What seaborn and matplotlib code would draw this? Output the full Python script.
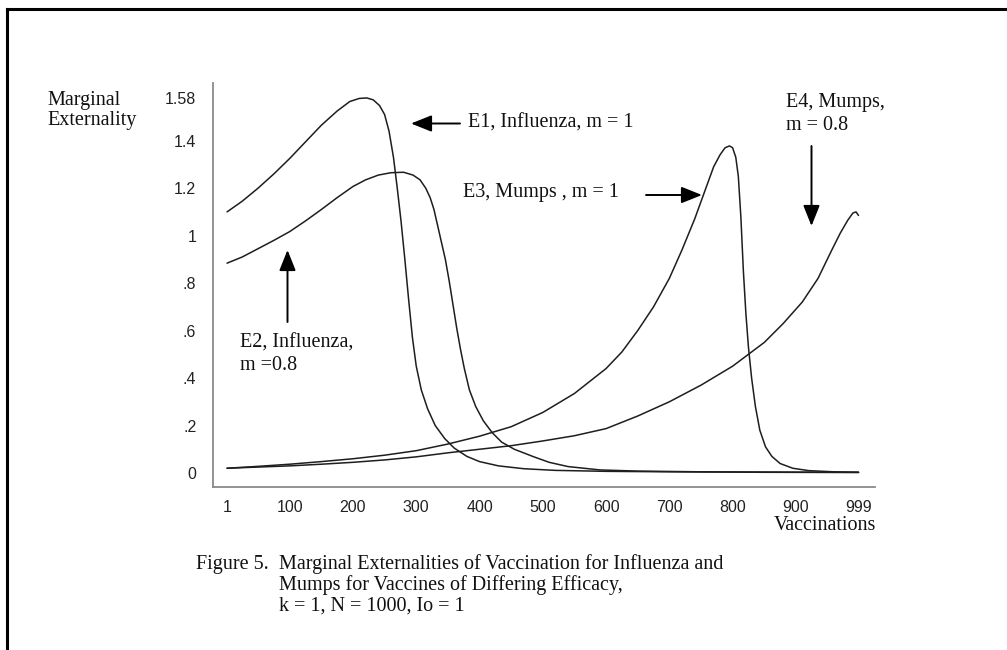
import matplotlib
matplotlib.use("Agg")
import matplotlib.pyplot as plt
import seaborn as sns
from matplotlib.lines import Line2D

# ---- data ----
e1_x = [1, 25, 50, 75, 100, 125, 150, 175, 195, 210, 222, 232, 242, 250, 257, 264, 270, 276, 282,
        288, 294, 300, 308, 318, 330, 345, 360, 380, 400, 430, 470, 520, 600, 700, 850, 999]
e1_y = [1.10, 1.145, 1.20, 1.26, 1.325, 1.395, 1.465, 1.525, 1.565, 1.578, 1.58, 1.572, 1.548, 1.51,
        1.44, 1.33, 1.20, 1.06, 0.90, 0.73, 0.57, 0.45, 0.35, 0.27, 0.20, 0.145, 0.105, 0.07, 0.048,
        0.03, 0.018, 0.011, 0.007, 0.005, 0.003, 0.002]

e2_x = [1, 25, 50, 75, 100, 125, 150, 175, 200, 220, 240, 260, 280, 295, 306, 315, 322, 328, 334, 340,
        346, 352, 358, 364, 370, 376, 384, 394, 406, 420, 435, 455, 485, 510, 540, 590, 650, 750, 999]
e2_y = [0.884, 0.91, 0.945, 0.98, 1.017, 1.062, 1.11, 1.16, 1.207, 1.235, 1.255, 1.265, 1.267, 1.255,
        1.235, 1.20, 1.16, 1.11, 1.04, 0.97, 0.90, 0.81, 0.71, 0.61, 0.52, 0.44, 0.35, 0.28, 0.22,
        0.17, 0.13, 0.10, 0.069, 0.045, 0.027, 0.013, 0.008, 0.005, 0.003]

e3_x = [1, 50, 100, 150, 200, 250, 300, 350, 400, 450, 500, 550, 600, 625, 650, 675, 700, 720, 740,
        755, 770, 780, 788, 795, 800, 805, 809, 813, 817, 821, 825, 830, 836, 843, 852, 862, 875, 895,
        920, 960, 999]
e3_y = [0.02, 0.028, 0.037, 0.048, 0.06, 0.075, 0.094, 0.122, 0.155, 0.195, 0.255, 0.335, 0.44, 0.51,
        0.60, 0.70, 0.82, 0.94, 1.07, 1.18, 1.29, 1.34, 1.37, 1.378, 1.37, 1.33, 1.25, 1.08, 0.85,
        0.67, 0.53, 0.40, 0.28, 0.18, 0.11, 0.07, 0.04, 0.02, 0.01, 0.005, 0.003]

e4_x = [1, 50, 100, 150, 200, 250, 300, 350, 400, 450, 500, 550, 600, 650, 700, 750, 800, 850, 880,
        910, 935, 955, 970, 982, 990, 995, 999]
e4_y = [0.02, 0.025, 0.03, 0.037, 0.045, 0.055, 0.068, 0.085, 0.10, 0.115, 0.135, 0.157, 0.187, 0.24,
        0.30, 0.37, 0.45, 0.55, 0.63, 0.72, 0.82, 0.93, 1.01, 1.065, 1.095, 1.10, 1.085]

x_ticks = [1, 100, 200, 300, 400, 500, 600, 700, 800, 900, 999]
x_tick_labels = ["1", "100", "200", "300", "400", "500", "600", "700", "800", "900", "999"]
y_ticks = [0, 0.2, 0.4, 0.6, 0.8, 1.0, 1.2, 1.4, 1.58]
y_tick_labels = ["0", ".2", ".4", ".6", ".8", "1", "1.2", "1.4", "1.58"]

# ---- style ----
sns.set_style("white")
plt.rcParams['font.family'] = ['Liberation Serif', 'DejaVu Serif']

W, H = 1007, 650
fig = plt.figure(figsize=(W / 100, H / 100), dpi=100)
fig.patch.set_facecolor("white")


def fx(px):
    return px / W


def fy(py):
    return 1 - py / H


ax = fig.add_axes([fx(213), fy(487), (875 - 213) / W, (487 - 83) / H])

line_color = "#1e1e1e"
for xs, ys in [(e1_x, e1_y), (e2_x, e2_y), (e3_x, e3_y), (e4_x, e4_y)]:
    sns.lineplot(x=xs, y=ys, ax=ax, color=line_color, linewidth=1.1,
                 estimator=None, sort=False)

ax.set_xlim(-21.2, 1025)
ax.set_ylim(-0.059, 1.643)

for s in ["top", "right"]:
    ax.spines[s].set_visible(False)
for s in ["left", "bottom"]:
    ax.spines[s].set_color("#8a8a8a")
    ax.spines[s].set_linewidth(1.3)

ax.set_xticks(x_ticks)
ax.set_xticklabels(x_tick_labels, fontfamily="Liberation Sans", fontsize=11.5)
ax.set_yticks(y_ticks)
ax.set_yticklabels(y_tick_labels, fontfamily="Liberation Sans", fontsize=11.5)
ax.tick_params(axis="both", direction="out", length=7, width=1.2,
               color="#8a8a8a", labelcolor="#222222")
ax.tick_params(axis="x", pad=2)
ax.tick_params(axis="y", pad=5)
ax.set_xlabel("")
ax.set_ylabel("")

tsize = 14.5
tcol = "#111111"

# y axis title
fig.text(fx(47), fy(100), "Marginal", ha="left", va="center", fontsize=tsize, color=tcol)
fig.text(fx(47), fy(121), "Externality", ha="left", va="center", fontsize=tsize, color=tcol)

# x axis title
fig.text(fx(876), fy(526), "Vaccinations", ha="right", va="center", fontsize=tsize, color=tcol)

# caption
fig.text(fx(196), fy(564), "Figure 5.", ha="left", va="center", fontsize=tsize, color=tcol)
fig.text(fx(279), fy(564), "Marginal Externalities of Vaccination for Influenza and",
         ha="left", va="center", fontsize=tsize, color=tcol)
fig.text(fx(279), fy(585), "Mumps for Vaccines of Differing Efficacy,",
         ha="left", va="center", fontsize=tsize, color=tcol)
fig.text(fx(279), fy(606), "k = 1, N = 1000, Io = 1",
         ha="left", va="center", fontsize=tsize, color=tcol)

# annotations
fig.text(fx(468), fy(123), "E1, Influenza, m = 1", ha="left", va="center", fontsize=tsize, color=tcol)
fig.text(fx(463), fy(193), "E3, Mumps , m = 1", ha="left", va="center", fontsize=tsize, color=tcol)
fig.text(fx(240), fy(343), "E2, Influenza,", ha="left", va="center", fontsize=tsize, color=tcol)
fig.text(fx(240), fy(365), "m =0.8", ha="left", va="center", fontsize=tsize, color=tcol)
fig.text(fx(786), fy(103), "E4, Mumps,", ha="left", va="center", fontsize=tsize, color=tcol)
fig.text(fx(786), fy(125), "m = 0.8", ha="left", va="center", fontsize=tsize, color=tcol)

arrow_props = dict(arrowstyle="-|>,head_length=0.7,head_width=0.28", color="black",
                   lw=1.4, mutation_scale=18, shrinkA=0, shrinkB=0)


def arrow(x0, y0, x1, y1):
    ax.annotate("", xy=(fx(x1), fy(y1)), xycoords="figure fraction",
                xytext=(fx(x0), fy(y0)), textcoords="figure fraction",
                arrowprops=arrow_props, annotation_clip=False)


arrow(460, 123.5, 411, 123.5)   # E1
arrow(646, 195, 702, 195)       # E3
arrow(287.5, 322, 287.5, 250)   # E2
arrow(811.5, 146, 811.5, 226)   # E4

# page frame (top and left edges visible)
fig.add_artist(Line2D([fx(7), fx(7)], [0, fy(9)], transform=fig.transFigure,
                      color="black", linewidth=2.2, solid_capstyle="projecting"))
fig.add_artist(Line2D([fx(7), 1], [fy(9), fy(9)], transform=fig.transFigure,
                      color="black", linewidth=2.2, solid_capstyle="projecting"))

fig.savefig("out.png", dpi=100, facecolor="white")
